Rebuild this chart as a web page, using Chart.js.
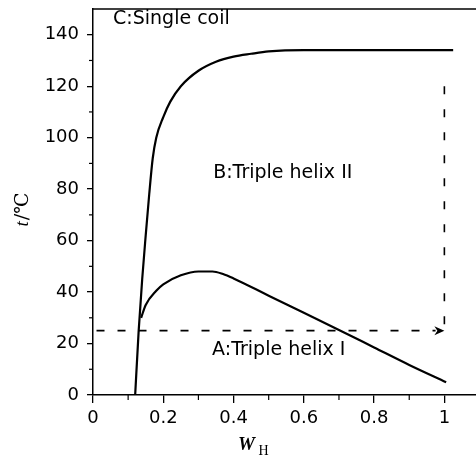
<!DOCTYPE html>
<html><head><meta charset="utf-8">
<script src="https://cdn.jsdelivr.net/npm/chart.js@4"></script>
<style>html,body{margin:0;padding:0;background:#fff}#wrap{width:476px;height:458px}</style>
</head><body><div id="wrap"><canvas id="c" width="476" height="458"></canvas></div>
<script>
// ---- data ----
const singleCoilX = [0.12, 0.13, 0.14, 0.15, 0.16, 0.17, 0.18, 0.2, 0.22, 0.25, 0.3, 0.35, 0.4, 0.45, 0.5, 0.6, 0.8, 1.025];
const singleCoilY = [0, 25, 45, 62, 78, 92, 100, 108, 114, 120, 126, 129.5, 131.5, 132.6, 133.5, 134, 134, 134];
const tripleHelixX = [0.137, 0.15, 0.18, 0.2, 0.25, 0.3, 0.34, 0.37, 0.4, 0.5, 0.6, 0.7, 0.8, 0.9, 1.005];
const tripleHelixY = [30, 35, 40.5, 43, 46.5, 48, 48, 47, 45.3, 38.6, 32, 25.3, 18.5, 11.7, 5];
const refLineX = [0.01, 0.975];
const refLineY = [25, 25];
const downLineX = [1.0, 1.0];
const downLineY = [120, 26];
const arrowTip = [1.0, 25];
const xTickValues = [0, 0.2, 0.4, 0.6, 0.8, 1];
const yTickValues = [0, 20, 40, 60, 80, 100, 120, 140];
const xMinorTicks = [0.1, 0.3, 0.5, 0.7, 0.9];
const yMinorTicks = [10, 30, 50, 70, 90, 110, 130];
const noteTexts = ['C:Single coil', 'B:Triple helix II', 'A:Triple helix I'];
const noteX = [0.057, 0.342, 0.339];
const noteY = [146, 86.3, 17.5];

const toPts = (xs, ys) => xs.map((x, i) => ({x: x, y: ys[i]}));

const decor = {
  id: 'decor',
  afterDraw(chart) {
    const ctx = chart.ctx, xs = chart.scales.x, ys = chart.scales.y, a = chart.chartArea;
    ctx.save();
    ctx.strokeStyle = '#000'; ctx.fillStyle = '#000';
    // top border
    ctx.lineWidth = 1.5;
    ctx.beginPath(); ctx.moveTo(a.left, a.top); ctx.lineTo(a.right, a.top); ctx.stroke();
    // minor ticks
    ctx.lineWidth = 1.2;
    yMinorTicks.forEach(v => { const p = ys.getPixelForValue(v); ctx.beginPath(); ctx.moveTo(a.left - 4, p); ctx.lineTo(a.left, p); ctx.stroke(); });
    xMinorTicks.forEach(v => { const p = xs.getPixelForValue(v); ctx.beginPath(); ctx.moveTo(p, a.bottom); ctx.lineTo(p, a.bottom + 5); ctx.stroke(); });
    // arrow head
    const tx = xs.getPixelForValue(arrowTip[0]), ty = ys.getPixelForValue(arrowTip[1]);
    ctx.beginPath(); ctx.moveTo(tx, ty); ctx.lineTo(tx - 10, ty - 4.5); ctx.lineTo(tx - 7, ty); ctx.lineTo(tx - 10, ty + 4.5); ctx.closePath(); ctx.fill();
    // notes
    ctx.font = '19px "DejaVu Sans"'; ctx.textBaseline = 'middle'; ctx.textAlign = 'left';
    noteTexts.forEach((t, i) => ctx.fillText(t, xs.getPixelForValue(noteX[i]), ys.getPixelForValue(noteY[i])));
    // x title  W_H
    ctx.font = 'italic bold 19px "Liberation Serif"'; ctx.textBaseline = 'alphabetic';
    ctx.fillText('W', 238, 450);
    ctx.font = '14px "Liberation Serif"';
    ctx.fillText('H', 258.5, 455);
    // y title t/℃
    ctx.translate(22, 210); ctx.rotate(-Math.PI / 2);
    ctx.font = 'italic 19px "Liberation Serif"';
    const w1 = ctx.measureText('t').width;
    ctx.font = '19px "DejaVu Serif"';
    const w2 = ctx.measureText('/℃').width;
    const start = -(w1 + w2) / 2;
    ctx.font = 'italic 19px "Liberation Serif"';
    ctx.fillText('t', start, 6);
    ctx.font = '19px "DejaVu Serif"';
    ctx.fillText('/℃', start + w1 + 1, 6);
    ctx.restore();
  }
};

const tickFont = {family: 'DejaVu Sans', size: 18, lineHeight: 1};

new Chart(document.getElementById('c'), {
  type: 'scatter',
  data: {
    datasets: [
      {data: toPts(singleCoilX, singleCoilY), showLine: true, borderColor: '#000', borderWidth: 2.2, pointRadius: 0, cubicInterpolationMode: 'monotone', tension: 0.4, fill: false},
      {data: toPts(tripleHelixX, tripleHelixY), showLine: true, borderColor: '#000', borderWidth: 2.2, pointRadius: 0, cubicInterpolationMode: 'monotone', tension: 0.4, fill: false},
      {data: toPts(refLineX, refLineY), showLine: true, borderColor: '#000', borderWidth: 1.6, borderDash: [8, 13], pointRadius: 0, fill: false},
      {data: toPts(downLineX, downLineY), showLine: true, borderColor: '#000', borderWidth: 1.6, borderDash: [8, 15], pointRadius: 0, fill: false}
    ]
  },
  options: {
    responsive: false, animation: false, devicePixelRatio: 1,
    layout: {padding: {top: 9, right: 0, left: 0, bottom: 0}},
    plugins: {legend: {display: false}, tooltip: {enabled: false}},
    scales: {
      x: {
        type: 'linear', min: 0, max: 1.09,
        afterFit(s) { s.height = 63; s.paddingLeft = 0; s.paddingRight = 0; },
        afterBuildTicks(s) { s.ticks = xTickValues.map(v => ({value: v})); },
        border: {color: '#000', width: 1.5},
        grid: {drawOnChartArea: false, drawTicks: true, tickLength: 8, color: '#000', lineWidth: 1.3},
        ticks: {color: '#000', font: tickFont, padding: 6, maxRotation: 0, autoSkip: false, callback: v => String(v)}
      },
      y: {
        type: 'linear', min: 0, max: 150,
        afterFit(s) { s.width = 93; s.paddingTop = 0; s.paddingBottom = 0; },
        afterBuildTicks(s) { s.ticks = yTickValues.map(v => ({value: v})); },
        border: {color: '#000', width: 1.5},
        grid: {drawOnChartArea: false, drawTicks: true, tickLength: 6, color: '#000', lineWidth: 1.3},
        ticks: {color: '#000', font: tickFont, padding: 8, autoSkip: false, callback: v => String(v)}
      }
    }
  },
  plugins: [decor]
});
</script>
</body></html>
